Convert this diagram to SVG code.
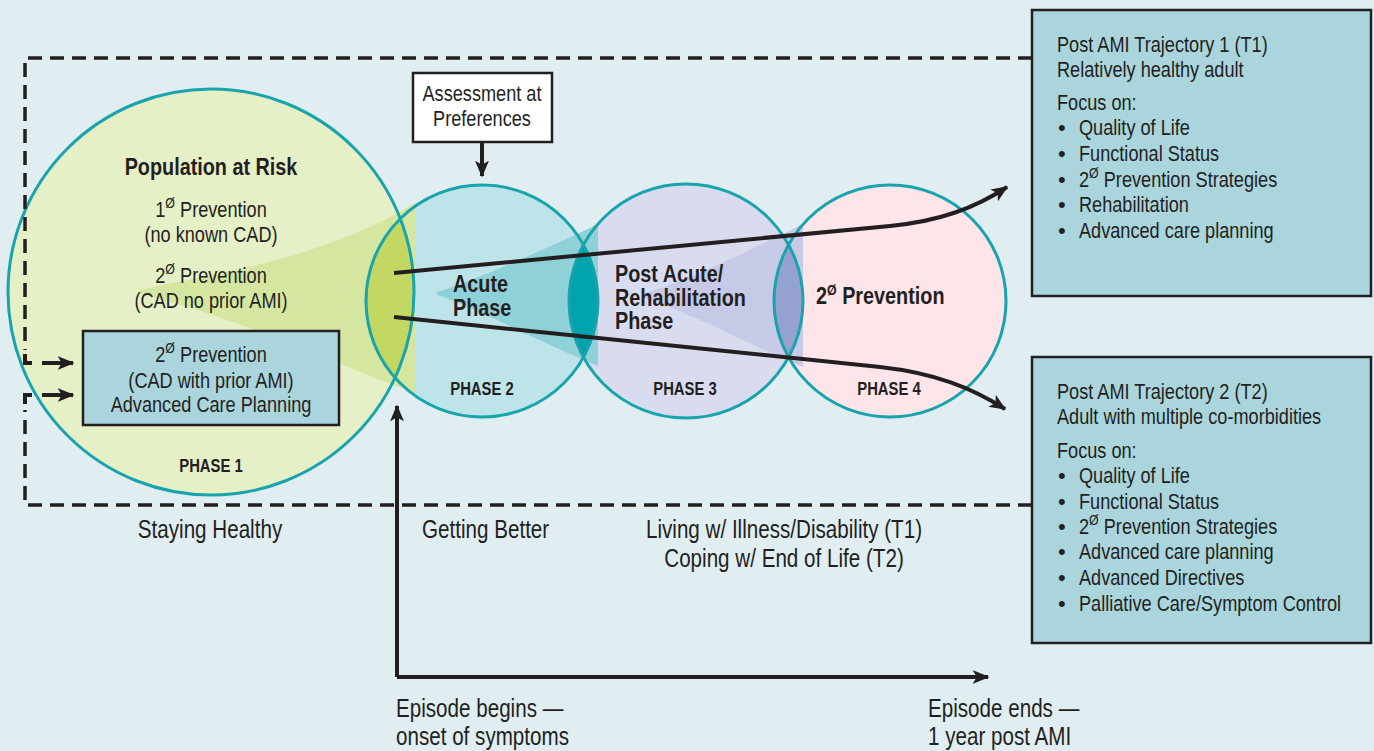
<svg xmlns="http://www.w3.org/2000/svg" width="1374" height="751" viewBox="0 0 1374 751">
<defs>
<style>
text{font-family:"Liberation Sans Narrow","Liberation Sans",Arial,sans-serif;fill:#231f20;}
.r22{font-size:22px;}
.r25{font-size:25px;}
.b24{font-size:24px;font-weight:bold;}
.b18{font-size:18px;font-weight:bold;}
.mid{text-anchor:middle;}
.sup{font-size:15px;}
.ring{fill:none;stroke:#19a3ad;stroke-width:3;}
.box{fill:#aad5dc;stroke:#231f20;stroke-width:2.5;}
.dash{fill:none;stroke:#231f20;stroke-width:3.5;stroke-dasharray:14 8;}
.ln{fill:none;stroke:#231f20;stroke-width:4;}
</style>
<marker id="ah" viewBox="0 0 12 10" refX="11" refY="5" markerWidth="4.2" markerHeight="3.6" orient="auto" markerUnits="strokeWidth">
<path d="M0,0 L12,5 L0,10 L3,5 Z" fill="#231f20"/>
</marker>
<clipPath id="c1"><circle cx="211" cy="292" r="203"/></clipPath>
<clipPath id="c2"><circle cx="482" cy="301" r="116"/></clipPath>
<clipPath id="c3"><circle cx="686" cy="301" r="117"/></clipPath>
</defs>
<rect width="1374" height="751" fill="#e0eef2"/>

<g id="phase-fills">
<circle cx="211" cy="292" r="203" fill="#e6f0c7"/>
<circle cx="482" cy="301" r="116" fill="#bde4e8"/>
<circle cx="686" cy="301" r="117" fill="#d9dcef"/>
<circle cx="890" cy="301" r="116" fill="#fde5ea"/>
<path d="M140,290 C190,278 320,262 415,203 L415,393 C330,362 240,318 140,294 Z" fill="#d5e6a0"/>
<path d="M437,292 C470,282 540,252 598,224 L598,366 C540,342 470,305 437,295 Z" fill="#8fd1d8"/>
<path d="M643,294 C690,280 750,250 803,224 L803,367 C750,345 690,312 643,298 Z" fill="#c6cae6"/>
<circle cx="482" cy="301" r="116" fill="#c2d862" clip-path="url(#c1)"/>
<circle cx="686" cy="301" r="117" fill="#00a3ae" clip-path="url(#c2)"/>
<circle cx="890" cy="301" r="116" fill="#95a1cf" clip-path="url(#c3)"/>
</g>

<g id="phase1">
<circle class="ring" cx="211" cy="292" r="203"/>
<text class="b24 mid" transform="translate(211 0) scale(.825 1)" y="175">Population at Risk</text>
<text class="r22 mid" transform="translate(211 0) scale(.825 1)" y="217">1<tspan class="sup" dy="-9">Ø</tspan><tspan dy="9"> Prevention</tspan></text>
<text class="r22 mid" transform="translate(211 0) scale(.825 1)" y="242">(no known CAD)</text>
<text class="r22 mid" transform="translate(211 0) scale(.825 1)" y="283">2<tspan class="sup" dy="-9">Ø</tspan><tspan dy="9"> Prevention</tspan></text>
<text class="r22 mid" transform="translate(211 0) scale(.825 1)" y="308">(CAD no prior AMI)</text>
<text class="b18 mid" transform="translate(211 0) scale(.825 1)" y="472">PHASE 1</text>
</g>

<g id="prior-ami-box">
<rect class="box" x="83" y="331" width="256" height="94"/>
<text class="r22 mid" transform="translate(211 0) scale(.825 1)" y="362">2<tspan class="sup" dy="-9">Ø</tspan><tspan dy="9"> Prevention</tspan></text>
<text class="r22 mid" transform="translate(211 0) scale(.825 1)" y="388">(CAD with prior AMI)</text>
<text class="r22 mid" transform="translate(211 0) scale(.825 1)" y="412">Advanced Care Planning</text>
</g>

<g id="phase2">
<circle class="ring" cx="482" cy="301" r="116"/>
<text class="b24" transform="translate(453 0) scale(.825 1)" y="292">Acute</text>
<text class="b24" transform="translate(453 0) scale(.825 1)" y="316">Phase</text>
<text class="b18 mid" transform="translate(482 0) scale(.825 1)" y="395">PHASE 2</text>
</g>

<g id="phase3">
<circle class="ring" cx="686" cy="301" r="117"/>
<text class="b24" transform="translate(615 0) scale(.825 1)" y="282">Post Acute/</text>
<text class="b24" transform="translate(615 0) scale(.825 1)" y="306">Rehabilitation</text>
<text class="b24" transform="translate(615 0) scale(.825 1)" y="329">Phase</text>
<text class="b18 mid" transform="translate(685 0) scale(.825 1)" y="395">PHASE 3</text>
</g>

<g id="phase4">
<circle class="ring" cx="890" cy="301" r="116"/>
<text class="b24" transform="translate(816 0) scale(.825 1)" y="304">2<tspan class="sup" dy="-9">Ø</tspan><tspan dy="9"> Prevention</tspan></text>
<text class="b18 mid" transform="translate(889 0) scale(.825 1)" y="395">PHASE 4</text>
</g>

<g id="assessment">
<rect x="413" y="73" width="139" height="69" fill="#ffffff" stroke="#231f20" stroke-width="2.5"/>
<text class="r22 mid" transform="translate(482 0) scale(.825 1)" y="101">Assessment at</text>
<text class="r22 mid" transform="translate(482 0) scale(.825 1)" y="126">Preferences</text>
</g>

<g id="trajectory1">
<rect class="box" x="1032" y="10" width="339" height="286"/>
<text class="r22" transform="translate(1057 0) scale(.825 1)" y="52">Post AMI Trajectory 1 (T1)</text>
<text class="r22" transform="translate(1057 0) scale(.825 1)" y="77">Relatively healthy adult</text>
<text class="r22" transform="translate(1057 0) scale(.825 1)" y="110">Focus on:</text>
<text class="r22" x="1058" y="135">•</text><text class="r22" transform="translate(1079 0) scale(.825 1)" y="135">Quality of Life</text>
<text class="r22" x="1058" y="161">•</text><text class="r22" transform="translate(1079 0) scale(.825 1)" y="161">Functional Status</text>
<text class="r22" x="1058" y="187">•</text><text class="r22" transform="translate(1079 0) scale(.825 1)" y="187">2<tspan class="sup" dy="-9">Ø</tspan><tspan dy="9"> Prevention Strategies</tspan></text>
<text class="r22" x="1058" y="212">•</text><text class="r22" transform="translate(1079 0) scale(.825 1)" y="212">Rehabilitation</text>
<text class="r22" x="1058" y="238">•</text><text class="r22" transform="translate(1079 0) scale(.825 1)" y="238">Advanced care planning</text>
</g>

<g id="trajectory2">
<rect class="box" x="1032" y="357" width="339" height="286"/>
<text class="r22" transform="translate(1057 0) scale(.825 1)" y="399">Post AMI Trajectory 2 (T2)</text>
<text class="r22" transform="translate(1057 0) scale(.825 1)" y="424">Adult with multiple co-morbidities</text>
<text class="r22" transform="translate(1057 0) scale(.825 1)" y="458">Focus on:</text>
<text class="r22" x="1058" y="483">•</text><text class="r22" transform="translate(1079 0) scale(.825 1)" y="483">Quality of Life</text>
<text class="r22" x="1058" y="509">•</text><text class="r22" transform="translate(1079 0) scale(.825 1)" y="509">Functional Status</text>
<text class="r22" x="1058" y="534">•</text><text class="r22" transform="translate(1079 0) scale(.825 1)" y="534">2<tspan class="sup" dy="-9">Ø</tspan><tspan dy="9"> Prevention Strategies</tspan></text>
<text class="r22" x="1058" y="559">•</text><text class="r22" transform="translate(1079 0) scale(.825 1)" y="559">Advanced care planning</text>
<text class="r22" x="1058" y="585">•</text><text class="r22" transform="translate(1079 0) scale(.825 1)" y="585">Advanced Directives</text>
<text class="r22" x="1058" y="611">•</text><text class="r22" transform="translate(1079 0) scale(.825 1)" y="611">Palliative Care/Symptom Control</text>
</g>

<g id="labels">
<text class="r25 mid" transform="translate(210 0) scale(.825 1)" y="538">Staying Healthy</text>
<text class="r25" transform="translate(422 0) scale(.825 1)" y="538">Getting Better</text>
<text class="r25 mid" transform="translate(784 0) scale(.825 1)" y="538">Living w/ Illness/Disability (T1)</text>
<text class="r25 mid" transform="translate(784 0) scale(.825 1)" y="567">Coping w/ End of Life (T2)</text>
<text class="r25" transform="translate(396 0) scale(.825 1)" y="717">Episode begins —</text>
<text class="r25" transform="translate(396 0) scale(.825 1)" y="745">onset of symptoms</text>
<text class="r25" transform="translate(928 0) scale(.825 1)" y="717">Episode ends —</text>
<text class="r25" transform="translate(928 0) scale(.825 1)" y="745">1 year post AMI</text>
</g>

<g id="connectors">
<path class="dash" d="M1032,58 L25,58 L25,350"/>
<path class="dash" d="M1032,505 L25,505 L25,410"/>
<path class="ln" d="M25,354 L25,363 L32,363" stroke-width="3.5"/>
<path class="ln" d="M25,404 L25,395 L32,395" stroke-width="3.5"/>
<path class="ln" d="M42,363 L73,363" marker-end="url(#ah)" stroke-width="3.5"/>
<path class="ln" d="M42,395 L73,395" marker-end="url(#ah)" stroke-width="3.5"/>
<path class="ln" d="M482,142 L482,176" marker-end="url(#ah)" stroke-width="3"/>
<path class="ln" d="M394,273 L890,226 C940,221 975,208 1007,187" marker-end="url(#ah)"/>
<path class="ln" d="M394,317 L880,367 C935,373 972,388 1005,409" marker-end="url(#ah)"/>
<path class="ln" d="M397,677 L397,406" marker-end="url(#ah)"/>
<path class="ln" d="M397,677 L988,677" marker-end="url(#ah)"/>
</g>
</svg>
